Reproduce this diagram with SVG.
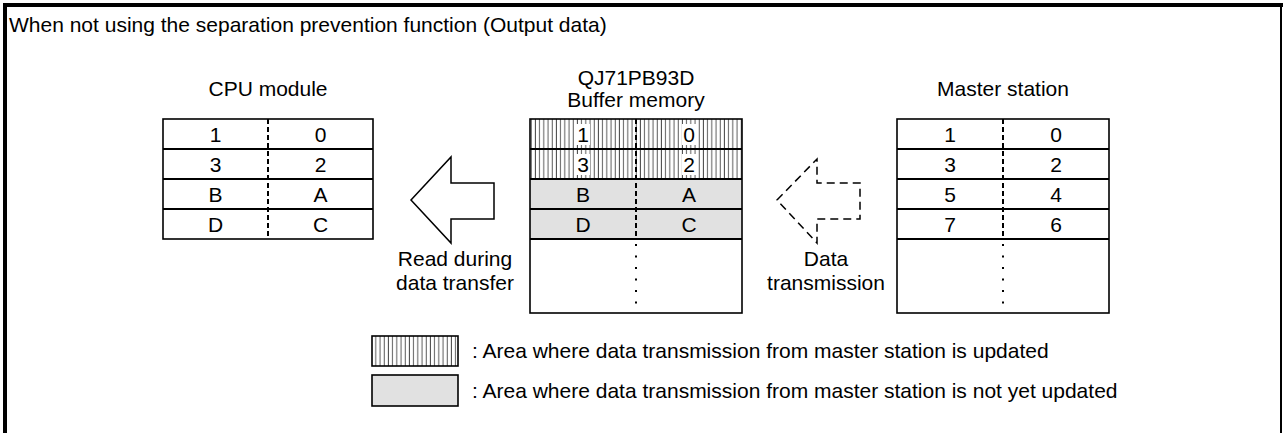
<svg xmlns="http://www.w3.org/2000/svg" width="1283" height="433" viewBox="0 0 1283 433">
<defs>
<pattern id="hatch" x="0" y="0" width="4.2" height="10" patternUnits="userSpaceOnUse">
<line x1="2" y1="0" x2="2" y2="10" stroke="#444" stroke-width="0.9"/>
</pattern>
<style>
text{font-family:"Liberation Sans",Arial,sans-serif;font-size:21px;fill:#000}
.c{text-anchor:middle}
.tb{fill:none;stroke:#000;stroke-width:1.6}
.row{stroke:#000;stroke-width:1.8}
.dash{stroke:#000;stroke-width:2;stroke-dasharray:5 3}
.dot{stroke:#000;stroke-width:2;stroke-dasharray:2 9.5}
.gray{fill:#e1e1e1}
.hat{fill:url(#hatch)}
.wb{fill:#fff}
</style>
</defs>
<rect width="1283" height="433" fill="#fff"/>
<g id="frame">
<line x1="3" y1="5" x2="1283" y2="5" stroke="#000" stroke-width="4"/>
<line x1="5" y1="3" x2="5" y2="433" stroke="#000" stroke-width="4"/>
<line x1="1281" y1="3" x2="1281" y2="433" stroke="#000" stroke-width="2"/>
</g>
<text id="title" x="9" y="32">When not using the separation prevention function (Output data)</text>

<g id="cpu">
<text class="c" x="268" y="96">CPU module</text>
<rect class="tb" x="163" y="119" width="210" height="120"/>
<line class="row" x1="163" y1="149" x2="373" y2="149"/>
<line class="row" x1="163" y1="179" x2="373" y2="179"/>
<line class="row" x1="163" y1="209" x2="373" y2="209"/>
<line class="dash" x1="268" y1="119" x2="268" y2="239"/>
<text class="c" x="215.5" y="141.5">1</text><text class="c" x="320.5" y="141.5">0</text>
<text class="c" x="215.5" y="171.5">3</text><text class="c" x="320.5" y="171.5">2</text>
<text class="c" x="215.5" y="201.5">B</text><text class="c" x="320.5" y="201.5">A</text>
<text class="c" x="215.5" y="231.5">D</text><text class="c" x="320.5" y="231.5">C</text>
</g>

<g id="buffer">
<text class="c" x="636" y="85">QJ71PB93D</text>
<text class="c" x="636" y="107">Buffer memory</text>
<rect class="hat" x="530" y="119" width="212" height="60"/>
<rect class="gray" x="530" y="179" width="212" height="60"/>
<rect class="wb" x="576" y="124" width="14" height="21"/>
<rect class="wb" x="682" y="124" width="14" height="21"/>
<rect class="wb" x="576" y="154" width="14" height="21"/>
<rect class="wb" x="682" y="154" width="14" height="21"/>
<rect class="tb" x="530" y="119" width="212" height="194"/>
<line class="row" x1="530" y1="149" x2="742" y2="149"/>
<line class="row" x1="530" y1="179" x2="742" y2="179"/>
<line class="row" x1="530" y1="209" x2="742" y2="209"/>
<line class="row" x1="530" y1="239" x2="742" y2="239"/>
<line class="dash" x1="636" y1="119" x2="636" y2="239"/>
<line class="dot" x1="636" y1="244" x2="636" y2="313"/>
<text class="c" x="583" y="141.5">1</text><text class="c" x="689" y="141.5">0</text>
<text class="c" x="583" y="171.5">3</text><text class="c" x="689" y="171.5">2</text>
<text class="c" x="583" y="201.5">B</text><text class="c" x="689" y="201.5">A</text>
<text class="c" x="583" y="231.5">D</text><text class="c" x="689" y="231.5">C</text>
</g>

<g id="master">
<text class="c" x="1003" y="96">Master station</text>
<rect class="tb" x="897" y="119" width="212" height="194"/>
<line class="row" x1="897" y1="149" x2="1109" y2="149"/>
<line class="row" x1="897" y1="179" x2="1109" y2="179"/>
<line class="row" x1="897" y1="209" x2="1109" y2="209"/>
<line class="row" x1="897" y1="239" x2="1109" y2="239"/>
<line class="dash" x1="1003" y1="119" x2="1003" y2="239"/>
<line class="dot" x1="1003" y1="244" x2="1003" y2="313"/>
<text class="c" x="950" y="141.5">1</text><text class="c" x="1056" y="141.5">0</text>
<text class="c" x="950" y="171.5">3</text><text class="c" x="1056" y="171.5">2</text>
<text class="c" x="950" y="201.5">5</text><text class="c" x="1056" y="201.5">4</text>
<text class="c" x="950" y="231.5">7</text><text class="c" x="1056" y="231.5">6</text>
</g>

<g id="connectors">
<polygon points="411,200 451,157 451,183 494,183 494,219 451,219 451,243" fill="#fff" stroke="#000" stroke-width="1.5"/>
<polygon points="777,200 817,159 817,183 860,183 860,219 817,219 817,243" fill="none" stroke="#000" stroke-width="1.5" stroke-dasharray="8 5"/>
</g>
<g id="label-read">
<text class="c" x="455" y="266">Read during</text>
<text class="c" x="455" y="290">data transfer</text>
</g>
<g id="label-trans">
<text class="c" x="826" y="266">Data</text>
<text class="c" x="826" y="290">transmission</text>
</g>

<g id="legend">
<rect class="hat" x="372" y="336" width="86" height="30"/>
<rect class="tb" x="372" y="336" width="86" height="30"/>
<rect class="gray" x="372" y="375" width="86" height="31"/>
<rect class="tb" x="372" y="375" width="86" height="31"/>
<text x="472" y="358">: Area where data transmission from master station is updated</text>
<text x="472" y="398">: Area where data transmission from master station is not yet updated</text>
</g>
</svg>
